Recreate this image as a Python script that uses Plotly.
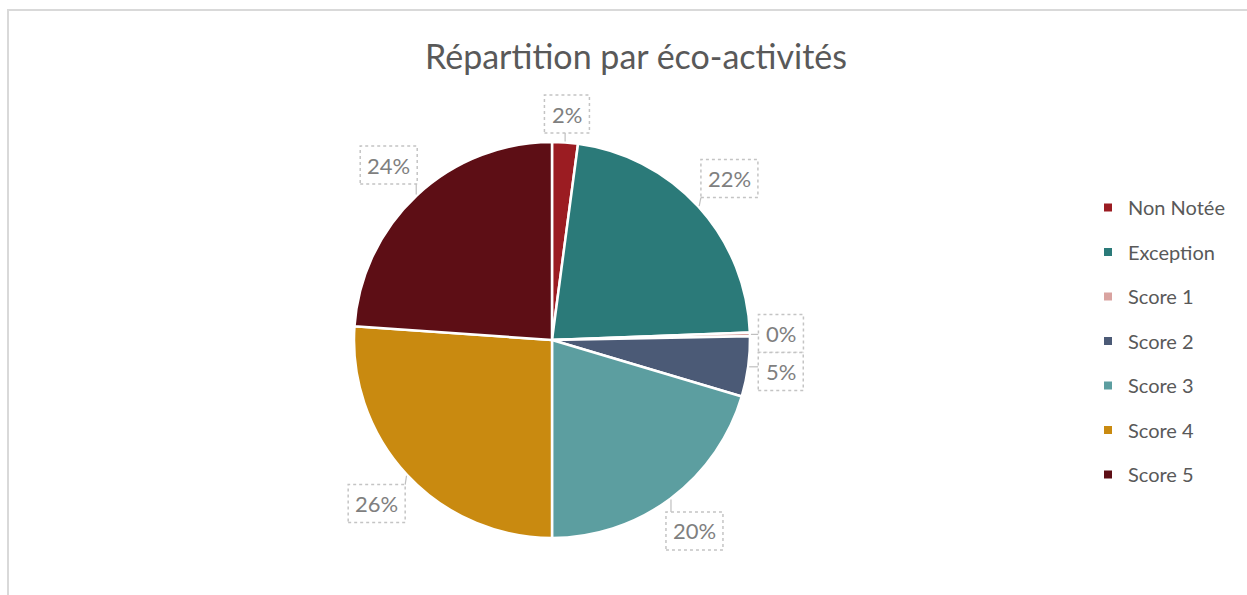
import math
import plotly.graph_objects as go

# Share of each eco-activity category (percent of total)
categories = ["Non Notée", "Exception", "Score 1", "Score 2", "Score 3", "Score 4", "Score 5"]
shares = [2.1, 22.3, 0.3, 4.9, 20.4, 26.1, 23.9]
colors = ["#9b1c22", "#2b7a79", "#d9a3a0", "#4b5a76", "#5c9ea0", "#c98a10", "#5d0e15"]

title_text = "Répartition par éco-activités"

W, H = 1247, 595
CX, CY, R = 552, 340, 198          # pie centre / radius in pixels
GAP = 8                             # distance between pie edge and callout box
BOX_H = 38


def to_paper(x, y):
    return x / W, 1 - y / H


fig = go.Figure()

fig.add_trace(go.Pie(
    labels=categories,
    values=shares,
    sort=False,
    direction="clockwise",
    rotation=0,
    marker=dict(colors=colors, line=dict(color="white", width=2.5)),
    textinfo="none",
    hoverinfo="label+percent",
    showlegend=False,
    domain=dict(x=[(CX - R) / W, (CX + R) / W],
                y=[1 - (CY + R) / H, 1 - (CY - R) / H]),
))

# Legend entries (one group per category so the entries are spaced out)
for name, col in zip(categories, colors):
    fig.add_trace(go.Scatter(
        x=[None], y=[None], mode="markers", name=name,
        legendgroup=name,
        marker=dict(symbol="square", size=8, color=col),
        hoverinfo="skip",
    ))

# Callout boxes with percentage labels placed around the pie
total = sum(shares)
boxes = []
cum = 0.0
for v in shares:
    theta = (cum + v / 2) / total * 2 * math.pi
    cum += v
    txt = f"{round(v / total * 100)}%"
    bw = 21 + 12 * len(txt)
    hw, hh = bw / 2, BOX_H / 2
    s, c = math.sin(theta), math.cos(theta)
    support = hw * abs(s) + hh * abs(c)
    r = R + GAP + support
    bx, by = CX + r * s, CY - r * c
    boxes.append(dict(theta=theta, txt=txt, x=bx, y=by, hw=hw, hh=hh))

# push apart callouts that would overlap
for i in range(1, len(boxes)):
    a, b = boxes[i - 1], boxes[i]
    if abs(a["x"] - b["x"]) < a["hw"] + b["hw"] and abs(a["y"] - b["y"]) < a["hh"] + b["hh"]:
        need = a["hh"] + b["hh"]
        b["y"] = a["y"] + need if b["y"] >= a["y"] else a["y"] - need

shapes = []
annotations = []
for b in boxes:
    x0, y0 = to_paper(b["x"] - b["hw"], b["y"] + b["hh"])
    x1, y1 = to_paper(b["x"] + b["hw"], b["y"] - b["hh"])
    # leader from the pie edge to the nearest point on the box
    ex = CX + (R + 1) * math.sin(b["theta"])
    ey = CY - (R + 1) * math.cos(b["theta"])
    nx = min(max(ex, b["x"] - b["hw"]), b["x"] + b["hw"])
    ny = min(max(ey, b["y"] - b["hh"]), b["y"] + b["hh"])
    lx0, ly0 = to_paper(ex, ey)
    lx1, ly1 = to_paper(nx, ny)
    shapes.append(dict(type="line", xref="paper", yref="paper",
                       x0=lx0, y0=ly0, x1=lx1, y1=ly1,
                       line=dict(color="#bfbfbf", width=1.2), layer="above"))
    shapes.append(dict(type="rect", xref="paper", yref="paper",
                       x0=x0, y0=y0, x1=x1, y1=y1,
                       fillcolor="white",
                       line=dict(color="#c4c4c4", width=1.5, dash="dot"),
                       layer="above"))
    ax, ay = to_paper(b["x"], b["y"])
    annotations.append(dict(x=ax, y=ay, xref="paper", yref="paper",
                            text=b["txt"], showarrow=False,
                            xanchor="center", yanchor="middle",
                            font=dict(family="Lato", size=22, color="#7f7f7f")))

# outer chart frame
fx0, fy0 = to_paper(8, 10)
shapes.append(dict(type="rect", xref="paper", yref="paper",
                   x0=fx0, y0=-0.1, x1=1.1, y1=fy0,
                   line=dict(color="#d9d9d9", width=2), layer="below"))

tx, ty = to_paper(636, 57)
fig.update_layout(
    width=W, height=H,
    margin=dict(l=0, r=0, t=0, b=0),
    paper_bgcolor="white",
    plot_bgcolor="white",
    font=dict(family="Lato", color="#595959"),
    title=dict(text=title_text, x=tx, y=ty, xanchor="center", yanchor="middle",
               font=dict(family="Lato", size=34, color="#595959")),
    xaxis=dict(visible=False),
    yaxis=dict(visible=False),
    showlegend=True,
    legend=dict(x=1088 / W, y=1 - 188 / H, xanchor="left", yanchor="top",
                font=dict(family="Lato", size=20, color="#595959"),
                tracegroupgap=15.5, itemclick=False, bgcolor="rgba(0,0,0,0)"),
    shapes=shapes,
    annotations=annotations,
)

fig.write_html("out.html")
